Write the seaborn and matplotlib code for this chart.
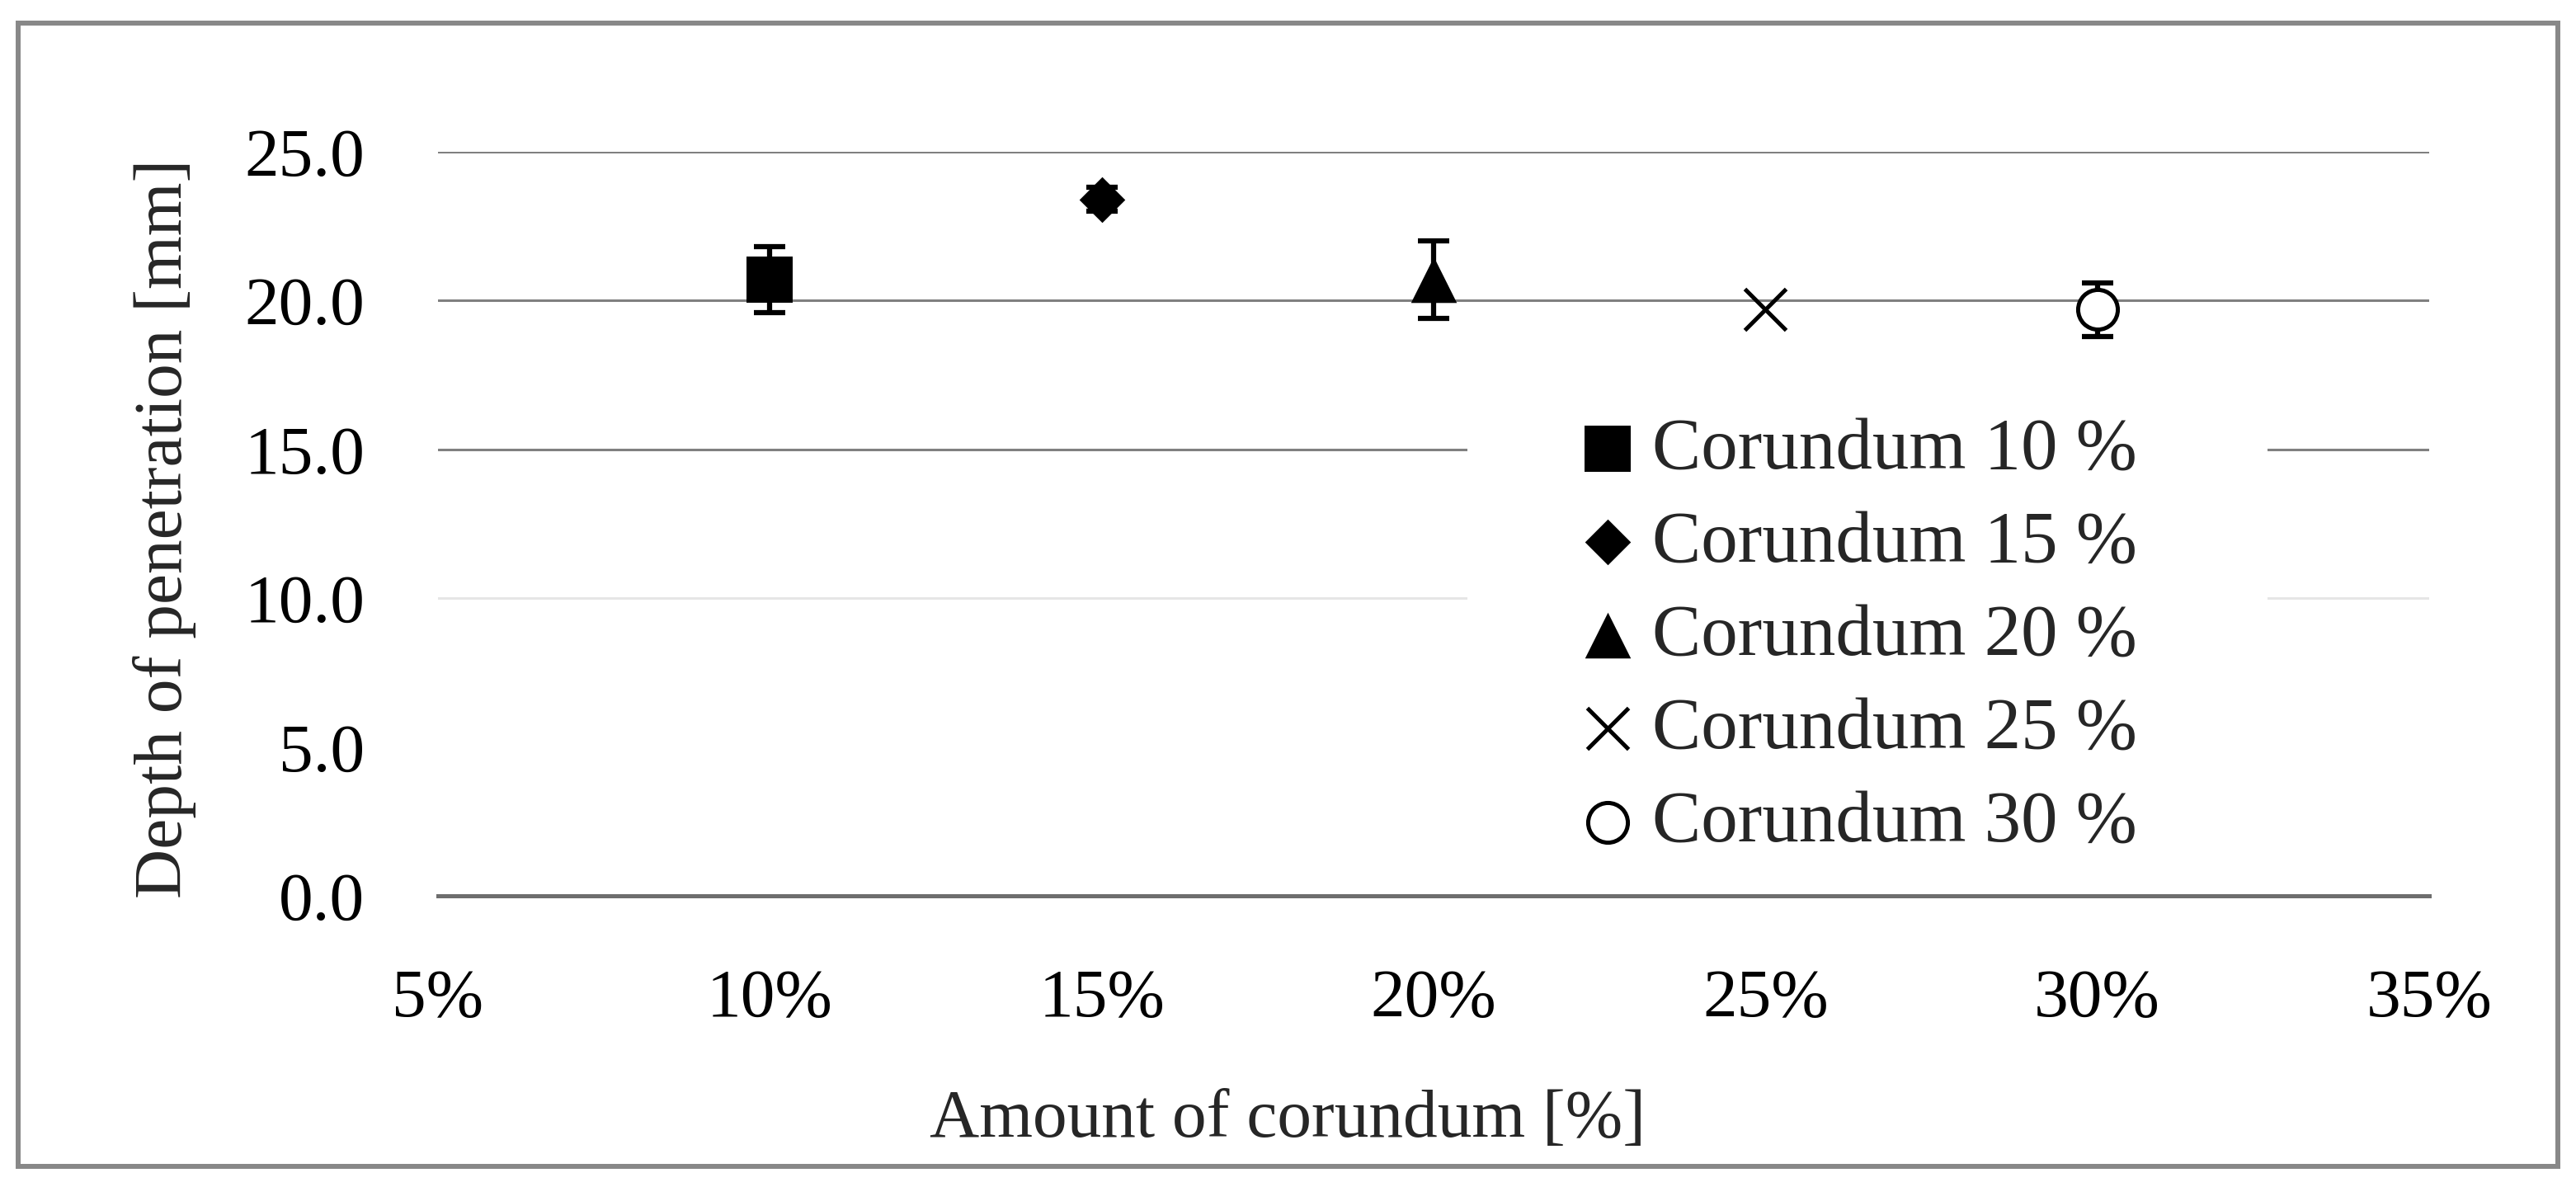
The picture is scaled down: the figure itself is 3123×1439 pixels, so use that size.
import pandas as pd
import numpy as np
import matplotlib.pyplot as plt
import matplotlib.patches as mpatches
import seaborn as sns

# Datos
amounts = [10, 15, 20, 25, 30]
depth = [20.7, 23.4, 20.7, 19.7, 19.7]
depth_err = [1.1, 0.4, 1.3, 0.0, 0.9]
series = ['Corundum 10 %', 'Corundum 15 %', 'Corundum 20 %', 'Corundum 25 %', 'Corundum 30 %']
x_ticks = [5, 10, 15, 20, 25, 30, 35]
y_ticks = [0, 5, 10, 15, 20, 25]

# Estilo de cada serie: marcador, tamano, relleno
marker_style = {
    'Corundum 10 %': dict(marker='s', s=1570, color='black', linewidth=0),
    'Corundum 15 %': dict(marker='D', s=800, color='black', linewidth=0),
    'Corundum 20 %': dict(marker='^', s=1600, color='black', linewidth=0),
    'Corundum 25 %': dict(marker='x', s=1300, color='black', linewidth=3.6),
    'Corundum 30 %': dict(marker='o', s=1200, color='white', edgecolor='black', linewidth=3.6),
}

df = pd.DataFrame({'amount': amounts, 'depth': depth, 'err': depth_err, 'series': series})

sns.set_theme(style='white')
plt.rcParams['font.family'] = ['Liberation Serif', 'DejaVu Serif']
fs = 60

fig = plt.figure(figsize=(31.23, 14.39), dpi=100)
ax = fig.add_axes([0.170, 0.2453, 0.773, 0.627])

# barras de error detras de los marcadores
for _, row in df.iterrows():
    if row['err'] > 0:
        ax.errorbar(row['amount'], row['depth'], yerr=row['err'], fmt='none',
                    ecolor='black', elinewidth=4.5, capsize=14, capthick=4.5, zorder=3)

for _, row in df.iterrows():
    sns.scatterplot(x=[row['amount']], y=[row['depth']], ax=ax, label=row['series'],
                    zorder=4, **marker_style[row['series']])

ax.set_xlim(5, 35)
ax.set_ylim(0, 25)
ax.set_xticks(x_ticks)
ax.set_xticklabels([f'{t}%' for t in x_ticks])
ax.set_yticks(y_ticks)
ax.set_yticklabels([f'{t:.1f}' for t in y_ticks])
ax.tick_params(axis='both', length=0, labelsize=fs, pad=64, colors='black')
ax.set_xlabel('')
ax.set_ylabel('')

# lineas de cuadricula
ax.grid(axis='y', linewidth=2.2)
grid_colors = ['#808080', '#ffffff', '#e6e6e6', '#808080', '#808080', '#808080']
for gl, c in zip(ax.yaxis.get_gridlines(), grid_colors):
    gl.set_color(c)
ax.grid(axis='x', visible=False)
for side in ['top', 'right', 'left']:
    ax.spines[side].set_visible(False)
ax.spines['bottom'].set_color('#6e6e6e')
ax.spines['bottom'].set_linewidth(3.6)

# fondo blanco de la leyenda
ax.add_patch(mpatches.Rectangle((0.517, 0.03), 0.402, 0.65, transform=ax.transAxes,
                                facecolor='white', edgecolor='none', zorder=1))

leg = ax.legend(loc='upper left', bbox_to_anchor=(0.600, 0.680), bbox_transform=fig.transFigure,
                frameon=False, fontsize=64, handlelength=0.7, handletextpad=0.25,
                labelspacing=0.36, borderpad=0, markerscale=1.0)

fig.text(0.5, 0.0563, 'Amount of corundum [%]', ha='center', va='center', fontsize=fs)
fig.text(0.064, 0.555, 'Depth of penetration [mm]', ha='center', va='center',
         rotation=90, fontsize=fs)

# marco exterior
fig.patches.append(mpatches.Rectangle((0.0072, 0.0174), 0.9858, 0.9631, transform=fig.transFigure,
                                      fill=False, edgecolor='#888888', linewidth=4.3))

plt.savefig('out.png', dpi=100)
